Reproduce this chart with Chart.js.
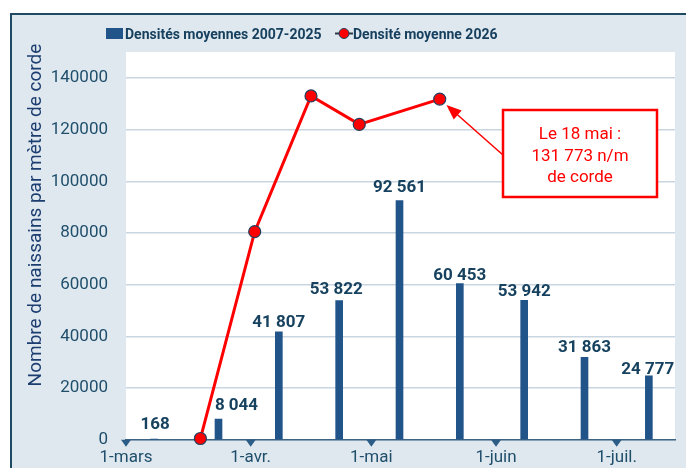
<!DOCTYPE html>
<html lang="fr">
<head>
<meta charset="utf-8">
<script src="https://cdn.jsdelivr.net/npm/chart.js@4/dist/chart.umd.min.js"></script>
<style>
  html, body { margin: 0; padding: 0; background: #ffffff; }
  #wrap { position: relative; width: 686px; height: 468px; }
</style>
</head>
<body>
<div id="wrap"><canvas id="chart" width="686" height="468"></canvas></div>
<script>
// Axe des dates : jours comptés depuis le 1er mars
const moisLabels = ["1-mars", "1-avr.", "1-mai", "1-juin", "1-juil."];
const moisJours = [0, 31, 61, 92, 122];
const yTicks = [0, 20000, 40000, 60000, 80000, 100000, 120000, 140000];

// Densités moyennes 2007-2025 (barres)
const joursMoyennes = [7, 23, 38, 53, 68, 83, 99, 114, 130];
const densitesMoyennes = [168, 8044, 41807, 53822, 92561, 60453, 53942, 31863, 24777];

// Densité moyenne 2026 (ligne)
const jours2026 = [18.5, 32, 46, 58, 78];
const densites2026 = [500, 80500, 133000, 122000, 131773];

const texteAnnotation = ["Le 18 mai :", "131 773 n/m", "de corde"];
const titreAxeY = "Nombre de naissains par mètre de corde";

const bleuBarre = "#21558a";
const texteFonce = "#17425f";
const rouge = "#ff0000";

// Format "8 044"
function formatNombre(v) {
  return String(v).replace(/\B(?=(\d{3})+(?!\d))/g, " ");
}

// Décalages des étiquettes de barres (comme dans l'original)
const etiquetteDx = [1, 18, 0, -3, 0, 0, 0, 0, -1];
const etiquetteDy = [10, 8.6, 4.4, 6.7, 8, 3.3, 4, 5.6, 2];

const decorPlugin = {
  id: "decor",
  beforeDraw(chart) {
    const c = chart.ctx;
    const a = chart.chartArea;
    c.save();
    c.fillStyle = "#ffffff";
    c.fillRect(0, 0, chart.width, chart.height);
    c.fillStyle = "#dfe8ef";
    c.fillRect(11, 14, chart.width, chart.height);
    c.strokeStyle = "#1e4a63";
    c.lineWidth = 2;
    c.beginPath();
    c.moveTo(11, chart.height);
    c.lineTo(11, 14);
    c.lineTo(chart.width, 14);
    c.stroke();
    c.fillStyle = "#ffffff";
    c.fillRect(a.left, a.top, a.right - a.left, a.bottom - a.top);
    c.restore();
  },
  afterDatasetsDraw(chart) {
    const c = chart.ctx;
    const x = chart.scales.x;
    const y = chart.scales.y;
    c.save();
    // étiquettes des barres
    c.font = "bold 17px Roboto";
    c.fillStyle = texteFonce;
    c.textAlign = "center";
    c.textBaseline = "alphabetic";
    densitesMoyennes.forEach((v, i) => {
      const px = x.getPixelForValue(joursMoyennes[i]) + etiquetteDx[i];
      const py = y.getPixelForValue(v) - etiquetteDy[i];
      c.fillText(formatNombre(v), px, py);
    });

    // annotation
    const bx = 503, by = 110, bw = 154, bh = 87;
    const last = densites2026.length - 1;
    const tx = x.getPixelForValue(jours2026[last]);
    const ty = y.getPixelForValue(densites2026[last]);
    const sx = bx, sy = 155;
    const len = Math.hypot(sx - tx, sy - ty);
    const ux = (sx - tx) / len, uy = (sy - ty) / len;
    const tipX = tx + ux * 9, tipY = ty + uy * 9;
    c.strokeStyle = rouge;
    c.fillStyle = rouge;
    c.lineWidth = 1.5;
    c.beginPath();
    c.moveTo(sx, sy);
    c.lineTo(tipX + ux * 12, tipY + uy * 12);
    c.stroke();
    c.beginPath();
    c.moveTo(tipX, tipY);
    c.lineTo(tipX + ux * 15 - uy * 6, tipY + uy * 15 + ux * 6);
    c.lineTo(tipX + ux * 15 + uy * 6, tipY + uy * 15 - ux * 6);
    c.closePath();
    c.fill();

    c.fillStyle = "#ffffff";
    c.fillRect(bx, by, bw, bh);
    c.lineWidth = 2.5;
    c.strokeRect(bx, by, bw, bh);
    c.fillStyle = rouge;
    c.font = "17px Roboto";
    c.textBaseline = "middle";
    texteAnnotation.forEach((t, i) => {
      c.fillText(t, bx + bw / 2, 135 + i * 21.5);
    });
    c.restore();
  },
  afterDraw(chart) {
    const c = chart.ctx;
    const x = chart.scales.x;
    const a = chart.chartArea;
    c.save();
    // triangles sous l'axe
    c.fillStyle = "#2c5d86";
    moisJours.forEach((j) => {
      const px = x.getPixelForValue(j);
      c.beginPath();
      c.moveTo(px - 5, a.bottom);
      c.lineTo(px + 5, a.bottom);
      c.lineTo(px, a.bottom + 7);
      c.closePath();
      c.fill();
    });

    // légende
    c.fillStyle = bleuBarre;
    c.fillRect(106, 28, 17, 11);
    c.font = "bold 14px Roboto";
    c.fillStyle = "#17405e";
    c.textAlign = "left";
    c.textBaseline = "alphabetic";
    c.fillText(chart.data.datasets[1].label, 125, 38.5);
    c.strokeStyle = "#2b3b4b";
    c.lineWidth = 2;
    c.beginPath();
    c.moveTo(335, 33.5);
    c.lineTo(353, 33.5);
    c.stroke();
    c.beginPath();
    c.arc(344, 33.5, 5, 0, Math.PI * 2);
    c.fillStyle = rouge;
    c.fill();
    c.lineWidth = 1;
    c.strokeStyle = "#24405e";
    c.stroke();
    c.fillStyle = "#17405e";
    c.fillText(chart.data.datasets[0].label, 353, 38.5);

    // titre de l'axe Y
    c.translate(36, 215);
    c.rotate(-Math.PI / 2);
    c.font = "19px Roboto";
    c.fillStyle = "#1c3d70";
    c.textAlign = "center";
    c.textBaseline = "middle";
    c.fillText(titreAxeY, 0, 0);
    c.restore();
  },
};

const ctx = document.getElementById("chart").getContext("2d");
const chart = new Chart(ctx, {
  type: "bar",
  data: {
    datasets: [
      {
        type: "line",
        label: "Densité moyenne 2026",
        data: jours2026.map((j, i) => ({ x: j, y: densites2026[i] })),
        borderColor: rouge,
        borderWidth: 3,
        pointRadius: 6,
        pointBackgroundColor: rouge,
        pointBorderColor: "#24405e",
        pointBorderWidth: 1.2,
        tension: 0,
        clip: false,
        order: 0,
      },
      {
        type: "bar",
        label: "Densités moyennes 2007-2025",
        data: joursMoyennes.map((j, i) => ({ x: j, y: densitesMoyennes[i] })),
        backgroundColor: bleuBarre,
        barThickness: 7,
        order: 1,
      },
    ],
  },
  options: {
    responsive: false,
    animation: false,
    layout: { padding: { top: 52, right: 11, left: 0, bottom: 0 } },
    plugins: {
      legend: { display: false },
      tooltip: { enabled: false },
    },
    scales: {
      x: {
        type: "linear",
        min: 0,
        max: 136.5,
        offset: false,
        afterBuildTicks: (s) => {
          s.ticks = moisJours.map((v) => ({ value: v }));
        },
        afterFit: (s) => {
          s.height = 28;
        },
        ticks: {
          autoSkip: false,
          maxRotation: 0,
          padding: 8,
          color: "#1f4e6b",
          font: { family: "Roboto", size: 17 },
          callback: (v) => moisLabels[moisJours.indexOf(v)],
        },
        grid: { display: false, drawTicks: false, offset: false },
        border: { color: "#3d6482", width: 1.5 },
      },
      y: {
        type: "linear",
        min: 0,
        max: 150000,
        afterBuildTicks: (s) => {
          s.ticks = yTicks.map((v) => ({ value: v }));
        },
        afterFit: (s) => {
          s.width = 126;
        },
        ticks: {
          autoSkip: false,
          padding: 18,
          color: "#1f4e6b",
          font: { family: "Roboto", size: 17 },
          callback: (v) => String(v),
        },
        grid: { color: "#c9d6e0", lineWidth: 1.5, drawTicks: false },
        border: { display: false },
      },
    },
  },
  plugins: [decorPlugin],
});
</script>
</body>
</html>
